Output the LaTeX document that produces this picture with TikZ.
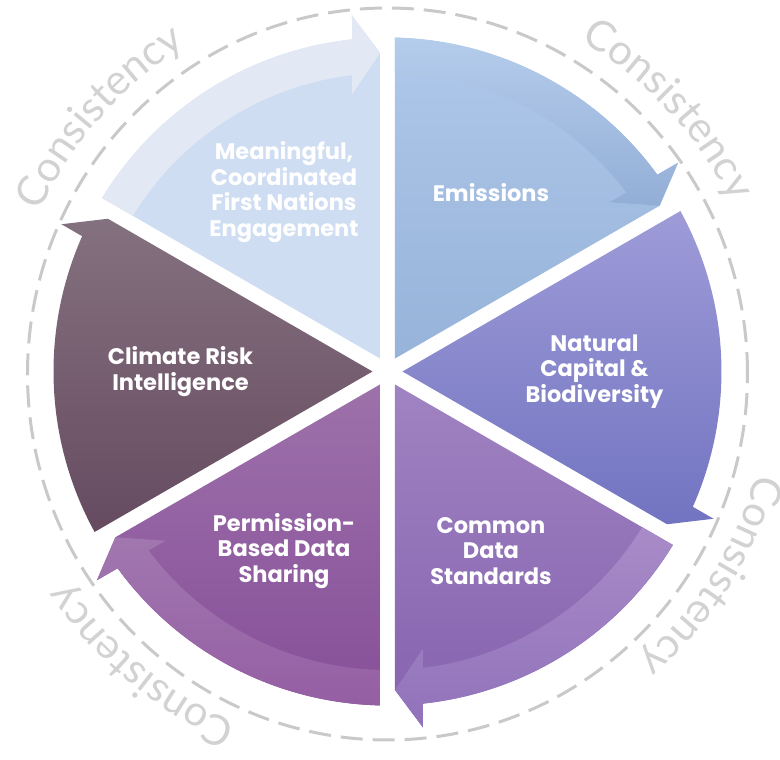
\documentclass[tikz,border=0pt]{standalone}
\usepackage{fontspec}
\setmainfont{Lato}
\newfontfamily\pillarfont{Poppins}
\usetikzlibrary{decorations.text}

\definecolor{ringgray}{HTML}{C9C9C9}
\definecolor{consgray}{HTML}{D2D2D2}
\definecolor{mfgbody}{HTML}{CFDDF2}
\definecolor{mfgband}{HTML}{E2E8F4}
\definecolor{emsbodyt}{HTML}{AFC8EA}
\definecolor{emsbodyb}{HTML}{97B3D9}
\definecolor{emsbandt}{HTML}{B5CDEC}
\definecolor{emsbandb}{HTML}{93AED6}
\definecolor{natt}{HTML}{9E9BD8}
\definecolor{natb}{HTML}{7274C1}
\definecolor{stdbodyt}{HTML}{A083C2}
\definecolor{stdbodyb}{HTML}{8562AE}
\definecolor{stdbandt}{HTML}{A88BC7}
\definecolor{stdbandb}{HTML}{9172BB}
\definecolor{shrbodyt}{HTML}{9D71AA}
\definecolor{shrbodyb}{HTML}{874F99}
\definecolor{shrbandt}{HTML}{A177AF}
\definecolor{shrbandb}{HTML}{955FA3}
\definecolor{clmt}{HTML}{84717F}
\definecolor{clmb}{HTML}{664B60}

\begin{document}
\begin{tikzpicture}[x=1pt, y=1pt,
    pillar/.style={text=white, font=\pillarfont\bfseries\fontsize{22.5}{25.6}\selectfont, align=center},
    ring/.style={draw=ringgray, line width=3pt, dash pattern=on 22pt off 10pt},
    consist/.style={decorate, decoration={text along path, text align=center,
        text color=consgray, text={|\fontsize{42}{42}\selectfont|Consistency}}}]

    \useasboundingbox (-387.5,-388.5) rectangle (392.5,371.5);

    \draw[ring] (0,-2.5) ellipse [x radius=360, y radius=366];

    \foreach \e/\bt/\bb/\at/\ab/\op in {90/mfgbody/mfgbody/mfgband/mfgband/1,
        30/emsbodyt/emsbodyb/emsbandt/emsbandb/1, -30/natt/natb/natt/natb/0,
        -90/stdbodyt/stdbodyb/stdbandt/stdbandb/1, -150/shrbodyt/shrbodyb/shrbandt/shrbandb/1,
        150/clmt/clmb/clmt/clmb/0}
    {
        \shade[top color=\bt, bottom color=\bb] (\e+30:15) -- (\e+58.713:334)
            arc[start angle=\e+58.713, end angle=\e+6.101, radius=334]
            -- (\e+5.695:357.8) -- (\e+1.349:318.6) -- cycle;
        \shade[top color=\at, bottom color=\ab, opacity=\op] (\e+58.713:334)
            arc[start angle=\e+58.713, end angle=\e+6.101, radius=334]
            -- (\e+5.695:357.8) -- (\e+1.349:318.6) -- (\e+7.303:279.3) -- (\e+6.83:298.5)
            arc[start angle=\e+6.83, end angle=\e+58.56, radius=298.5] -- cycle;
    }

    \foreach \c in {138.5, 43, -32.2, -129.9}
        \path[consist] (\c+30:383) arc[start angle=\c+30, end angle=\c-30, radius=383];

    \node[pillar] (engage) at (120:207) {Meaningful,\\Coordinated\\First Nations\\Engagement};
    \node[pillar] (emis) at (60:207) {Emissions};
    \node[pillar] (natcap) at (0:207) {Natural\\Capital \&\\Biodiversity};
    \node[pillar] (stds) at (-60:207) {Common\\Data\\Standards};
    \node[pillar] (share) at (-120:207) {Permission-\\Based Data\\Sharing};
    \node[pillar] (climate) at (180:207) {Climate Risk\\Intelligence};
\end{tikzpicture}
\end{document}
